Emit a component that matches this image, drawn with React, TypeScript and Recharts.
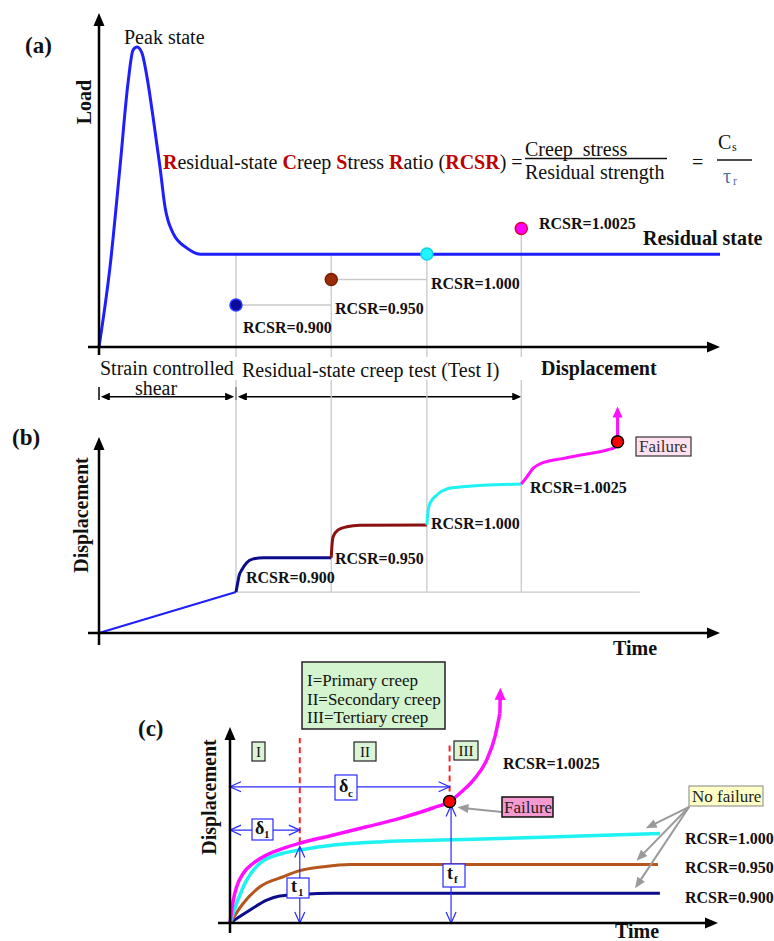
import React from "react";
import { ComposedChart, Line, Scatter, XAxis, YAxis, ReferenceLine, ReferenceDot } from "recharts";

// ---------- Panel (a): load vs displacement (x = displacement, 0..100) ----------
const loadCurve = [
  { x: 0, load: 0 },
  { x: 1.77, load: 23.9 },
  { x: 3.38, load: 53.9 },
  { x: 4.67, load: 79.0 },
  { x: 5.48, load: 88.9 },
  { x: 6.12, load: 89.8 },
  { x: 6.92, load: 88.0 },
  { x: 7.73, load: 80.8 },
  { x: 8.7, load: 68.9 },
  { x: 9.82, load: 53.9 },
  { x: 10.63, load: 41.9 },
  { x: 11.92, load: 34.1 },
  { x: 14.17, load: 29.6 },
  { x: 16.26, load: 27.8 },
  { x: 100, load: 27.8 },
];
const residualLoad = loadCurve[loadCurve.length - 1].load;

// creep stages: RCSR level and the displacement / time where each stage starts
const rcsrLevels = ["0.900", "0.950", "1.000", "1.0025"];
const stageStart = [22.06, 37.4, 52.8, 68.0];
const creepDots = rcsrLevels.map((r, i) => ({ x: stageStart[i], rcsr: r }));

// ---------- Panel (b): displacement vs time ----------
const shearRampB = [
  { x: 0, d: 0 },
  { x: 22.06, d: 20.9 },
];
const creep900B = [
  { x: 22.06, d: 20.9 },
  { x: 22.27, d: 24.5 },
  { x: 22.59, d: 29.6 },
  { x: 22.98, d: 32.1 },
  { x: 23.78, d: 35.9 },
  { x: 24.85, d: 37.8 },
  { x: 26.46, d: 38.4 },
  { x: 37.4, d: 38.4 },
];
const creep950B = [
  { x: 37.4, d: 38.4 },
  { x: 37.5, d: 44.0 },
  { x: 37.7, d: 49.1 },
  { x: 38.5, d: 52.6 },
  { x: 39.9, d: 54.2 },
  { x: 42.0, d: 55.0 },
  { x: 52.8, d: 55.1 },
];
const creep1000B = [
  { x: 52.8, d: 55.1 },
  { x: 52.95, d: 61.2 },
  { x: 53.3, d: 66.3 },
  { x: 54.4, d: 70.4 },
  { x: 56.0, d: 73.5 },
  { x: 58.6, d: 74.6 },
  { x: 68.0, d: 76.0 },
];
const creep10025B = [
  { x: 68.0, d: 76.0 },
  { x: 68.9, d: 79.7 },
  { x: 69.9, d: 84.0 },
  { x: 71.5, d: 86.9 },
  { x: 74.8, d: 89.1 },
  { x: 78.5, d: 91.3 },
  { x: 81.8, d: 93.4 },
  { x: 83.1, d: 94.7 },
  { x: 83.5, d: 97.6 },
];
const failureB = creep10025B[creep10025B.length - 1];
const shearEndB = shearRampB[shearRampB.length - 1];

// ---------- Panel (c): creep curves, displacement vs time ----------
const creep900C = [
  { x: 0, d: 0 },
  { x: 4.1, d: 6.6 },
  { x: 7.52, d: 11.7 },
  { x: 10.2, d: 13.8 },
  { x: 14.3, d: 14.6 },
  { x: 21.2, d: 15.2 },
  { x: 88.1, d: 15.2 },
];
const creep950C = [
  { x: 0, d: 0 },
  { x: 2.73, d: 10.1 },
  { x: 6.15, d: 18.5 },
  { x: 10.9, d: 23.6 },
  { x: 14.3, d: 26.7 },
  { x: 19.1, d: 28.7 },
  { x: 24.6, d: 29.9 },
  { x: 87.7, d: 29.9 },
];
const creep1000C = [
  { x: 0, d: 0 },
  { x: 1.37, d: 10.1 },
  { x: 3.42, d: 21.9 },
  { x: 6.15, d: 30.5 },
  { x: 10.9, d: 35.6 },
  { x: 14.3, d: 37.2 },
  { x: 21.2, d: 39.8 },
  { x: 31.4, d: 41.5 },
  { x: 43.0, d: 42.3 },
  { x: 55.3, d: 43.1 },
  { x: 71.7, d: 44.4 },
  { x: 88.1, d: 45.7 },
];
const creep10025C = [
  { x: 0, d: 0 },
  { x: 0.68, d: 11.7 },
  { x: 1.37, d: 18.5 },
  { x: 2.73, d: 25.4 },
  { x: 4.77, d: 30.5 },
  { x: 7.52, d: 34.7 },
  { x: 10.9, d: 38.1 },
  { x: 14.3, d: 40.7 },
  { x: 21.2, d: 44.9 },
  { x: 28.0, d: 49.1 },
  { x: 34.8, d: 53.4 },
  { x: 41.7, d: 58.8 },
  { x: 45.0, d: 62.0 },
  { x: 47.1, d: 66.2 },
  { x: 49.9, d: 73.0 },
  { x: 52.6, d: 83.2 },
  { x: 54.3, d: 95.1 },
  { x: 55.3, d: 107.0 },
];
// end of primary creep (t1, δ1) and onset of failure (tf, δc)
const primaryEnd = { x: 14.3, d: 40.7 };
const failureC = { x: 45.0, d: 62.0 };

// ---------- styling ----------
const FONT = "'Liberation Serif', 'Times New Roman', serif";
const GREY = "#c9c9c9";
const BLUE = "#1e1eff";
const NAVY = "#0c0c8c";
const CYAN = "#1ef2f2";
const MAGENTA = "#ff10ff";
const DARKRED = "#8b1010";
const SIENNA = "#b4561e";
const ARROW_BLUE = "#2a2aff";
const dotStyle: Record<string, { fill: string; stroke: string }> = {
  "0.900": { fill: "#0b0b9a", stroke: "#2a3cff" },
  "0.950": { fill: "#9a2a08", stroke: "#7a2000" },
  "1.000": { fill: "#1ff5ff", stroke: "#10d0f0" },
  "1.0025": { fill: "#ff00ff", stroke: "#e0003a" },
};

type ArrowOpts = {
  color: string;
  width?: number;
  start?: boolean;
  end?: boolean;
  open?: boolean;
  len?: number;
  wid?: number;
  dash?: string;
};

// custom ReferenceLine shape: a segment with optional arrowheads
function arrowShape(o: ArrowOpts) {
  const { color, width = 2, start = false, end = false, open = false, len = 10, wid = 9, dash } = o;
  return (p: any) => {
    const x1 = +p.x1, y1 = +p.y1, x2 = +p.x2, y2 = +p.y2;
    const L = Math.hypot(x2 - x1, y2 - y1) || 1;
    const ux = (x2 - x1) / L, uy = (y2 - y1) / L;
    const head = (tx: number, ty: number, dx: number, dy: number, key: string) => {
      const bx = tx - dx * len, by = ty - dy * len;
      const nx = (-dy * wid) / 2, ny = (dx * wid) / 2;
      const pts = `${bx + nx},${by + ny} ${tx},${ty} ${bx - nx},${by - ny}`;
      return open ? (
        <polyline key={key} points={pts} fill="none" stroke={color} strokeWidth={width} />
      ) : (
        <polygon key={key} points={pts} fill={color} stroke="none" />
      );
    };
    const trim = open ? 0 : len * 0.7;
    const sx = start ? x1 + ux * trim : x1, sy = start ? y1 + uy * trim : y1;
    const ex = end ? x2 - ux * trim : x2, ey = end ? y2 - uy * trim : y2;
    return (
      <g>
        <line x1={sx} y1={sy} x2={ex} y2={ey} stroke={color} strokeWidth={width} strokeDasharray={dash} />
        {start ? head(x1, y1, -ux, -uy, "s") : null}
        {end ? head(x2, y2, ux, uy, "e") : null}
      </g>
    );
  };
}

const axisArrow = arrowShape({ color: "#000", width: 2.5, end: true, len: 13, wid: 11 });
const greyLine = arrowShape({ color: GREY, width: 1.3 });

function PanelA() {
  return (
    <ComposedChart width={774} height={400} margin={{ top: 13, right: 54, bottom: 53, left: 99 }}>
      <XAxis type="number" dataKey="x" domain={[0, 100]} hide />
      <YAxis yAxisId="load" type="number" domain={[0, 100]} hide />
      <YAxis
        yAxisId="rcsr"
        type="category"
        dataKey="rcsr"
        scale="point"
        padding={{ top: 215.5, bottom: 42 }}
        hide
      />
      {stageStart.map((s) => (
        <ReferenceLine
          key={"v" + s}
          yAxisId="load"
          segment={[{ x: s, y: residualLoad }, { x: s, y: -3 }]}
          ifOverflow="visible"
          shape={greyLine}
        />
      ))}
      <ReferenceLine
        yAxisId="rcsr"
        segment={[{ x: stageStart[3], y: rcsrLevels[3] }, { x: stageStart[3], y: rcsrLevels[2] }]}
        ifOverflow="visible"
        shape={greyLine}
      />
      {[0, 1].map((i) => (
        <ReferenceLine
          key={"h" + i}
          yAxisId="rcsr"
          segment={[{ x: stageStart[i], y: rcsrLevels[i] }, { x: stageStart[i + 1], y: rcsrLevels[i] }]}
          ifOverflow="visible"
          shape={greyLine}
        />
      ))}
      <Line
        yAxisId="load"
        data={loadCurve}
        dataKey="load"
        type="monotone"
        stroke={BLUE}
        strokeWidth={3}
        dot={false}
        activeDot={false}
        isAnimationActive={false}
      />
      <Scatter
        yAxisId="rcsr"
        data={creepDots}
        isAnimationActive={false}
        shape={(p: any) => {
          const st = dotStyle[p.payload?.rcsr] || dotStyle["1.000"];
          return <circle cx={p.cx} cy={p.cy} r={6} fill={st.fill} stroke={st.stroke} strokeWidth={1.5} />;
        }}
      />
      {/* axes */}
      <ReferenceLine yAxisId="load" segment={[{ x: 0, y: -2.4 }, { x: 0, y: 100 }]} ifOverflow="visible" shape={axisArrow} />
      <ReferenceLine yAxisId="load" segment={[{ x: -1.77, y: 0 }, { x: 100, y: 0 }]} ifOverflow="visible" shape={axisArrow} />
      {/* test-stage dimension arrows */}
      <ReferenceLine
        yAxisId="load"
        segment={[{ x: 0.3, y: -14.9 }, { x: stageStart[0] - 0.3, y: -14.9 }]}
        ifOverflow="visible"
        shape={arrowShape({ color: "#000", width: 1.5, start: true, end: true, len: 9, wid: 8 })}
      />
      <ReferenceLine
        yAxisId="load"
        segment={[{ x: stageStart[0] + 0.3, y: -14.9 }, { x: stageStart[3], y: -14.9 }]}
        ifOverflow="visible"
        shape={arrowShape({ color: "#000", width: 1.5, start: true, end: true, len: 9, wid: 8 })}
      />
      {[0, stageStart[0]].map((s) => (
        <ReferenceLine
          key={"t" + s}
          yAxisId="load"
          segment={[{ x: s, y: -12.0 }, { x: s, y: -17.0 }]}
          ifOverflow="visible"
          shape={arrowShape({ color: "#000", width: 1.5 })}
        />
      ))}
    </ComposedChart>
  );
}

function PanelB() {
  const series = [
    { data: shearRampB, color: BLUE, w: 2 },
    { data: creep900B, color: NAVY, w: 3 },
    { data: creep950B, color: DARKRED, w: 3 },
    { data: creep1000B, color: CYAN, w: 3 },
    { data: creep10025B, color: MAGENTA, w: 3 },
  ];
  return (
    <ComposedChart width={774} height={295} margin={{ top: 67, right: 54, bottom: 32, left: 99 }}>
      <XAxis type="number" dataKey="x" domain={[0, 100]} hide />
      <YAxis type="number" domain={[0, 100]} hide />
      {stageStart.map((s) => (
        <ReferenceLine
          key={"v" + s}
          segment={[{ x: s, y: 129.1 }, { x: s, y: shearEndB.d }]}
          ifOverflow="visible"
          shape={greyLine}
        />
      ))}
      <ReferenceLine
        segment={[{ x: shearEndB.x, y: shearEndB.d }, { x: 87.1, y: shearEndB.d }]}
        ifOverflow="visible"
        shape={greyLine}
      />
      {series.map((s, i) => (
        <Line
          key={i}
          data={s.data}
          dataKey="d"
          type="monotone"
          stroke={s.color}
          strokeWidth={s.w}
          dot={false}
          activeDot={false}
          isAnimationActive={false}
        />
      ))}
      <ReferenceLine
        segment={[{ x: failureB.x, y: failureB.d }, { x: failureB.x, y: 115.5 }]}
        ifOverflow="visible"
        shape={arrowShape({ color: MAGENTA, width: 3, end: true, len: 11, wid: 10 })}
      />
      <ReferenceDot x={failureB.x} y={failureB.d} r={6} fill="#ff0000" stroke="#000" strokeWidth={1.5} ifOverflow="visible" />
      <ReferenceLine segment={[{ x: 0, y: -6.1 }, { x: 0, y: 100 }]} ifOverflow="visible" shape={axisArrow} />
      <ReferenceLine segment={[{ x: -1.77, y: 0 }, { x: 100, y: 0 }]} ifOverflow="visible" shape={axisArrow} />
    </ComposedChart>
  );
}

function PanelC() {
  const series = [
    { data: creep900C, color: NAVY, w: 3 },
    { data: creep950C, color: SIENNA, w: 3 },
    { data: creep1000C, color: CYAN, w: 3.5 },
    { data: creep10025C, color: MAGENTA, w: 3.5 },
  ];
  const blueArrow = arrowShape({ color: ARROW_BLUE, width: 1.2, start: true, end: true, open: true, len: 11, wid: 10 });
  const greyArrow = arrowShape({ color: "#9a9a9a", width: 2, end: true, len: 11, wid: 9 });
  const redDash = arrowShape({ color: "#ff2020", width: 2, dash: "6 4" });
  const last = creep10025C[creep10025C.length - 1];
  return (
    <ComposedChart width={774} height={281} margin={{ top: 18, right: 56, bottom: 18, left: 230 }}>
      <XAxis type="number" dataKey="x" domain={[0, 100]} hide />
      <YAxis type="number" domain={[0, 125]} hide />
      <ReferenceLine segment={[{ x: primaryEnd.x, y: primaryEnd.d }, { x: primaryEnd.x, y: 94.4 }]} ifOverflow="visible" shape={redDash} />
      <ReferenceLine segment={[{ x: failureC.x, y: failureC.d }, { x: failureC.x, y: 92.3 }]} ifOverflow="visible" shape={redDash} />
      {series.map((s, i) => (
        <Line
          key={i}
          data={s.data}
          dataKey="d"
          type="monotone"
          stroke={s.color}
          strokeWidth={s.w}
          dot={false}
          activeDot={false}
          isAnimationActive={false}
        />
      ))}
      <ReferenceLine
        segment={[{ x: last.x, y: last.d }, { x: last.x + 0.1, y: 120 }]}
        ifOverflow="visible"
        shape={arrowShape({ color: MAGENTA, width: 3.5, end: true, len: 12, wid: 11 })}
      />
      {/* δc, δ1, t1, tf dimension arrows */}
      <ReferenceLine segment={[{ x: 0, y: 69.5 }, { x: failureC.x, y: 69.5 }]} ifOverflow="visible" shape={blueArrow} />
      <ReferenceLine segment={[{ x: 0, y: 47.4 }, { x: primaryEnd.x, y: 47.4 }]} ifOverflow="visible" shape={blueArrow} />
      <ReferenceLine segment={[{ x: primaryEnd.x, y: 39 }, { x: primaryEnd.x, y: 0 }]} ifOverflow="visible" shape={blueArrow} />
      <ReferenceLine segment={[{ x: failureC.x + 0.3, y: 60 }, { x: failureC.x + 0.3, y: 0 }]} ifOverflow="visible" shape={blueArrow} />
      {/* callout arrows */}
      <ReferenceLine segment={[{ x: 55.7, y: 56.6 }, { x: 46.6, y: 59.0 }]} ifOverflow="visible" shape={greyArrow} />
      <ReferenceLine segment={[{ x: 94.1, y: 59.3 }, { x: 85.2, y: 48.3 }]} ifOverflow="visible" shape={greyArrow} />
      <ReferenceLine segment={[{ x: 94.1, y: 59.3 }, { x: 83.3, y: 31.8 }]} ifOverflow="visible" shape={greyArrow} />
      <ReferenceLine segment={[{ x: 94.1, y: 59.3 }, { x: 83.0, y: 17.7 }]} ifOverflow="visible" shape={greyArrow} />
      <ReferenceDot x={failureC.x} y={failureC.d} r={6} fill="#ff0000" stroke="#000" strokeWidth={1.5} ifOverflow="visible" />
      <ReferenceLine segment={[{ x: 0, y: -5.1 }, { x: 0, y: 100 }]} ifOverflow="visible" shape={axisArrow} />
      <ReferenceLine segment={[{ x: -2.46, y: 0 }, { x: 100, y: 0 }]} ifOverflow="visible" shape={axisArrow} />
    </ComposedChart>
  );
}

type TProps = {
  x: number;
  y: number;
  size?: number;
  bold?: boolean;
  fill?: string;
  anchor?: "start" | "middle" | "end";
  rotate?: boolean;
  children?: React.ReactNode;
};
function T({ x, y, size = 16, bold = false, fill = "#111", anchor = "start", rotate = false, children }: TProps) {
  return (
    <text
      x={x}
      y={y}
      fontSize={size}
      fontWeight={bold ? "bold" : "normal"}
      fill={fill}
      textAnchor={anchor}
      dominantBaseline="central"
      fontFamily={FONT}
      transform={rotate ? `rotate(-90 ${x} ${y})` : undefined}
    >
      {children}
    </text>
  );
}

function Box({ x, y, w, h, fill, stroke, sw = 1.2 }: { x: number; y: number; w: number; h: number; fill: string; stroke: string; sw?: number }) {
  return <rect x={x} y={y} width={w} height={h} fill={fill} stroke={stroke} strokeWidth={sw} />;
}

const RED = "#c00000";
const ratioName: [string, boolean][] = [
  ["R", true],
  ["esidual-state ", false],
  ["C", true],
  ["reep ", false],
  ["S", true],
  ["tress ", false],
  ["R", true],
  ["atio (", false],
  ["RCSR", true],
  [") =", false],
];

function Annotations() {
  return (
    <svg width={774} height={941} style={{ position: "absolute", left: 0, top: 0, pointerEvents: "none" }}>
      {/* panel (a) */}
      <T x={25} y={45} size={23} bold>(a)</T>
      <T x={124} y={37} size={20}>Peak state</T>
      <T x={84} y={102} size={20} bold rotate anchor="middle">Load</T>
      <text x={163} y={162} fontSize={20} dominantBaseline="central" fontFamily={FONT} fill="#111">
        {ratioName.map(([s, hi], i) => (
          <tspan key={i} fill={hi ? RED : "#111"} fontWeight={hi ? "bold" : "normal"}>
            {s}
          </tspan>
        ))}
      </text>
      <T x={525} y={149} size={20}>{"Creep\u00a0 stress"}</T>
      <line x1={525} y1={158.5} x2={667} y2={158.5} stroke="#111" strokeWidth={1.5} />
      <T x={525} y={172} size={20}>Residual strength</T>
      <T x={692} y={162} size={20}>=</T>
      <T x={718} y={142} size={20}>C</T>
      <T x={732} y={147} size={12}>s</T>
      <line x1={717} y1={160} x2={752} y2={160} stroke="#111" strokeWidth={1.5} />
      <T x={723} y={176} size={20} fill="#56709e">τ</T>
      <T x={733} y={181} size={12} fill="#56709e">r</T>
      <T x={643} y={238} size={20} bold>Residual state</T>
      <T x={243} y={327} bold>RCSR=0.900</T>
      <T x={335} y={308} bold>RCSR=0.950</T>
      <T x={431} y={283} bold>RCSR=1.000</T>
      <T x={539} y={223} bold>RCSR=1.0025</T>
      <T x={100} y={368} size={20}>Strain controlled</T>
      <T x={156} y={388} size={20} anchor="middle">shear</T>
      <T x={242} y={370} size={20}>Residual-state creep test (Test I)</T>
      <T x={541} y={368} size={20} bold>Displacement</T>

      {/* panel (b) */}
      <T x={12} y={437} size={23} bold>(b)</T>
      <T x={81} y={515} size={20} bold rotate anchor="middle">Displacement</T>
      <T x={613} y={648} size={20} bold>Time</T>
      <T x={246} y={577} bold>RCSR=0.900</T>
      <T x={335} y={558} bold>RCSR=0.950</T>
      <T x={431} y={523} bold>RCSR=1.000</T>
      <T x={530} y={487} bold>RCSR=1.0025</T>
      <Box x={636} y={437} w={55} h={19} fill="#ffe1f0" stroke="#333" />
      <T x={639} y={446.5} size={17} fill="#333">Failure</T>

      {/* panel (c) */}
      <T x={138} y={728} size={23} bold>(c)</T>
      <Box x={302} y={662} w={143} h={67} fill="#d4f4d0" stroke="#222" sw={1.5} />
      <T x={307} y={680} size={17}>I=Primary creep</T>
      <T x={307} y={699} size={17}>II=Secondary creep</T>
      <T x={307} y={717} size={17}>III=Tertiary creep</T>
      <T x={209} y={797} size={20} bold rotate anchor="middle">Displacement</T>
      <T x={615} y={931} size={20} bold>Time</T>
      <Box x={252} y={742} w={13} h={19} fill="#dcf4d6" stroke="#222" />
      <T x={258.5} y={751.5} size={15} anchor="middle">I</T>
      <Box x={354} y={742} w={22} h={19} fill="#dcf4d6" stroke="#222" />
      <T x={365} y={751.5} size={15} anchor="middle">II</T>
      <Box x={454} y={741} w={24} h={19} fill="#dcf4d6" stroke="#222" />
      <T x={466} y={750.5} size={15} anchor="middle">III</T>

      <Box x={335} y={775} w={22} h={25} fill="#fff" stroke={ARROW_BLUE} />
      <T x={339} y={786} size={18} bold>δ</T>
      <T x={348} y={793} size={11} bold>c</T>
      <Box x={252} y={819} w={21} h={21} fill="#fff" stroke={ARROW_BLUE} />
      <T x={255} y={828} size={18} bold>δ</T>
      <T x={264} y={834} size={11} bold>1</T>
      <Box x={287} y={878} w={22} h={20} fill="#fff" stroke={ARROW_BLUE} />
      <T x={291} y={886} size={18} bold>t</T>
      <T x={298} y={892} size={11} bold>1</T>
      <Box x={443} y={864} w={22} h={23} fill="#fff" stroke={ARROW_BLUE} />
      <T x={447} y={873} size={18} bold>t</T>
      <T x={454} y={879} size={11} bold>f</T>

      <T x={503} y={763} bold>RCSR=1.0025</T>
      <Box x={502} y={797} w={51} h={20} fill="#f59ad0" stroke="#111" sw={1.5} />
      <T x={504} y={807} size={17} fill="#222">Failure</T>
      <Box x={689} y={786} w={74} h={20} fill="#ffffc6" stroke="#999" />
      <T x={692} y={796} size={17} fill="#222">No failure</T>
      <T x={685} y={838} bold>RCSR=1.000</T>
      <T x={685} y={867} bold>RCSR=0.950</T>
      <T x={685} y={897} bold>RCSR=0.900</T>
    </svg>
  );
}

export default function App() {
  return (
    <div style={{ position: "absolute", left: 0, top: 0, width: 774, height: 941, background: "#fff" }}>
      <div style={{ position: "absolute", left: 0, top: 0 }}>
        <PanelA />
      </div>
      <div style={{ position: "absolute", left: 0, top: 370 }}>
        <PanelB />
      </div>
      <div style={{ position: "absolute", left: 0, top: 660 }}>
        <PanelC />
      </div>
      <Annotations />
    </div>
  );
}
